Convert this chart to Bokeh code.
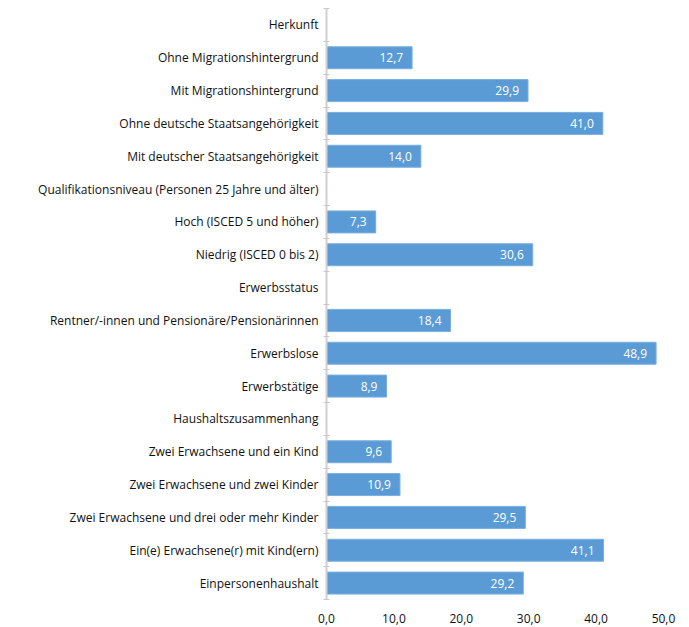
from bokeh.plotting import figure
from bokeh.models import ColumnDataSource, Range1d, FixedTicker, LabelSet
from bokeh.core.properties import value
from bokeh.embed import file_html
from bokeh.resources import INLINE

categories = [
    "Herkunft",
    "Ohne Migrationshintergrund",
    "Mit Migrationshintergrund",
    "Ohne deutsche Staatsangehörigkeit",
    "Mit deutscher Staatsangehörigkeit",
    "Qualifikationsniveau (Personen 25 Jahre und älter)",
    "Hoch (ISCED 5 und höher)",
    "Niedrig (ISCED 0 bis 2)",
    "Erwerbsstatus",
    "Rentner/-innen und Pensionäre/Pensionärinnen",
    "Erwerbslose",
    "Erwerbstätige",
    "Haushaltszusammenhang",
    "Zwei Erwachsene und ein Kind",
    "Zwei Erwachsene und zwei Kinder",
    "Zwei Erwachsene und drei oder mehr Kinder",
    "Ein(e) Erwachsene(r) mit Kind(ern)",
    "Einpersonenhaushalt",
]
values = [None, 12.7, 29.9, 41.0, 14.0, None, 7.3, 30.6, None, 18.4, 48.9, 8.9,
          None, 9.6, 10.9, 29.5, 41.1, 29.2]
x_ticks = [0, 10, 20, 30, 40, 50]
x_tick_labels = ["0,0", "10,0", "20,0", "30,0", "40,0", "50,0"]

FONT = "Open Sans"
TEXT = "#111111"

n = len(categories)
ys, vs, labs = [], [], []
for i, v in enumerate(values):
    if v is not None:
        ys.append(i)
        vs.append(v)
        labs.append(f"{v:.1f}".replace(".", ","))
src = ColumnDataSource(dict(y=ys, v=vs, lab=labs))

p = figure(width=685, height=625, output_backend="svg", toolbar_location=None,
           x_range=Range1d(0, 50), y_range=Range1d(n - 0.5, -0.5),
           min_border_left=326, min_border_right=22, min_border_top=8,
           min_border_bottom=24)
p.outline_line_color = None
p.grid.grid_line_color = None

p.hbar(y="y", left=0, right="v", height=0.67, source=src,
       fill_color="#5b9bd5", line_color="#7aaee0", line_width=1)

labels = LabelSet(x="v", y="y", text="lab", source=src, x_offset=-9,
                  text_align="right", text_baseline="middle",
                  text_color="white", text_font=value(FONT),
                  text_font_size="12px")
p.add_layout(labels)

# y axis
ya = p.yaxis[0]
ya.ticker = FixedTicker(ticks=list(range(n)),
                        minor_ticks=[i - 0.5 for i in range(n + 1)])
ya.major_label_overrides = {i: c for i, c in enumerate(categories)}
ya.major_tick_line_color = None
ya.major_tick_out = 0
ya.minor_tick_line_color = "#c8c8c8"
ya.minor_tick_out = 3
ya.minor_tick_in = 3
ya.axis_line_color = "#d0d0d0"
ya.axis_line_width = 2
ya.major_label_standoff = 5
ya.major_label_text_font = FONT
ya.major_label_text_font_size = "12px"
ya.major_label_text_color = TEXT

# x axis
xa = p.xaxis[0]
xa.ticker = FixedTicker(ticks=x_ticks)
xa.major_label_overrides = {t: l for t, l in zip(x_ticks, x_tick_labels)}
xa.axis_line_color = None
xa.major_tick_line_color = None
xa.minor_tick_line_color = None
xa.major_label_standoff = 8
xa.major_label_text_font = FONT
xa.major_label_text_font_size = "12px"
xa.major_label_text_color = TEXT

open("out.html", "w").write(file_html(p, INLINE))
